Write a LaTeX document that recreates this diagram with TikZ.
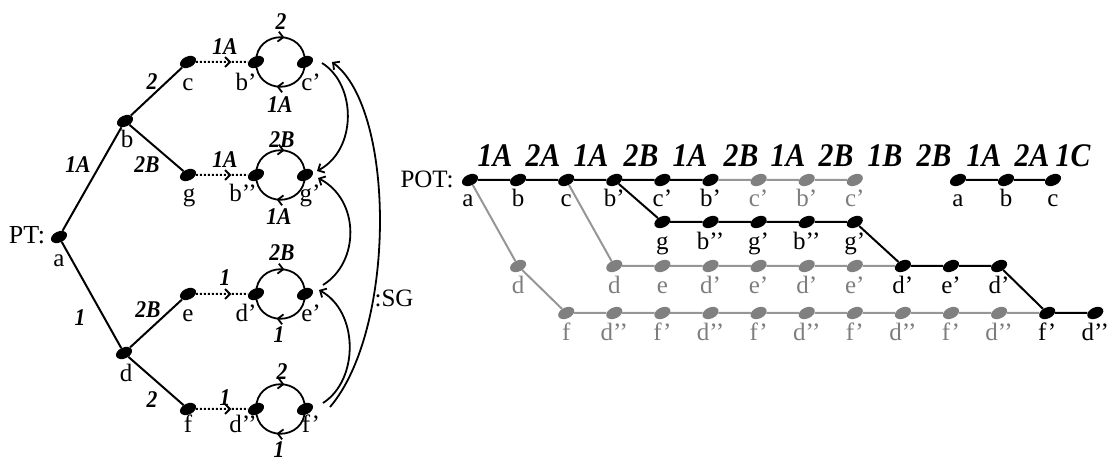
\documentclass[tikz,border=0pt]{standalone}
\usepackage{fontspec}
\setmainfont{Liberation Serif}
\newfontfamily\labfont[FakeStretch=0.9]{Liberation Serif}
\usetikzlibrary{shapes.geometric,arrows.meta,decorations.markings,calc}
\definecolor{gdotc}{RGB}{128,128,128}
\definecolor{glinec}{RGB}{150,150,150}
\definecolor{gtextc}{RGB}{125,125,125}
\begin{document}
\begin{tikzpicture}[x=1pt,y=-1pt,
  pdot/.style={ellipse, fill=black, draw=none, minimum width=17pt, minimum height=11pt, inner sep=0pt, rotate=25},
  gpdot/.style={pdot, fill=gdotc},
  lbl/.style={font=\fontsize{25}{27}\selectfont, inner sep=0pt, anchor=base},
  glbl/.style={lbl, text=gtextc},
  elab/.style={font=\labfont\fontsize{24}{26}\selectfont\bfseries\itshape, inner sep=0pt},
  tlab/.style={font=\labfont\fontsize{33}{35}\selectfont\bfseries\itshape, inner sep=0pt, anchor=base},
  blk/.style={line width=2pt},
  gry/.style={line width=2pt, draw=glinec},
  carrow/.style={line width=1.8pt, -{Straight Barb[length=5pt,width=10pt]}},
  dotarrow/.style={line width=2pt, dash pattern=on 2pt off 2pt, postaction={decorate},
    decoration={markings, mark=at position 0.68 with {\arrow[solid]{Straight Barb[length=5pt,width=10pt]}}}},
  loopline/.style={line width=1.8pt, postaction={decorate},
    decoration={markings, mark=at position 0.55 with {\arrow{Straight Barb[length=5pt,width=10pt]}}}}
]
\useasboundingbox (0,0) rectangle (1112,462);

% ---------------- left: PT ----------------
\node[pdot] (a) at (59,237) {};
\node[pdot] (b) at (125,121) {};
\node[pdot] (c) at (188,62) {};
\node[pdot] (g) at (188,175) {};
\node[pdot] (d) at (124,353) {};
\node[pdot] (e) at (188,294) {};
\node[pdot] (f) at (188,409) {};
\node[pdot] (bp) at (256,62) {};
\node[pdot] (cp) at (305,62) {};
\node[pdot] (bpp) at (256,175) {};
\node[pdot] (gp) at (305,175) {};
\node[pdot] (dp) at (256,294) {};
\node[pdot] (ep) at (305,294) {};
\node[pdot] (dpp) at (256,409) {};
\node[pdot] (fp) at (305,409) {};

\draw[blk] (a) -- (b);
\draw[blk] (b) -- (c);
\draw[blk] (b) -- (g);
\draw[blk] (a) -- (d);
\draw[blk] (d) -- (e);
\draw[blk] (d) -- (f);

\draw[dotarrow] (c) -- (bp);
\draw[dotarrow] (g) -- (bpp);
\draw[dotarrow] (e) -- (dp);
\draw[dotarrow] (f) -- (dpp);

\draw[loopline] (bp.center) .. controls +(0,-33) and +(0,-33) .. (cp.center);
\draw[loopline] (cp.center) .. controls +(0,33) and +(0,33) .. (bp.center);
\draw[loopline] (bpp.center) .. controls +(0,-33) and +(0,-33) .. (gp.center);
\draw[loopline] (gp.center) .. controls +(0,33) and +(0,33) .. (bpp.center);
\draw[loopline] (dp.center) .. controls +(0,-33) and +(0,-33) .. (ep.center);
\draw[loopline] (ep.center) .. controls +(0,33) and +(0,33) .. (dp.center);
\draw[loopline] (dpp.center) .. controls +(0,-33) and +(0,-33) .. (fp.center);
\draw[loopline] (fp.center) .. controls +(0,33) and +(0,33) .. (dpp.center);

\draw[carrow] ($(cp)+(17,1)$) .. controls ($(cp)+(52,23)$) and ($(gp)+(52,-25)$) .. ($(gp)+(12,-4)$);
\draw[carrow] ($(ep)+(18,-9)$) .. controls ($(ep)+(55,-32)$) and ($(gp)+(55,25)$) .. ($(gp)+(13,3)$);
\draw[carrow] ($(fp)+(18,-6)$) .. controls ($(fp)+(54,-29)$) and ($(ep)+(54,18)$) .. ($(ep)+(14,-4)$);
\draw[carrow] ($(fp)+(25,-2)$) .. controls ($(fp)+(91,-79)$) and ($(cp)+(91,48)$) .. ($(cp)+(27,0)$);

\node[font=\fontsize{26}{28}\selectfont, inner sep=0pt] (ptlab) at (27,235) {PT:};
\node[lbl] (la) at (59,267) {a};
\node[lbl] (lb) at (127,148) {b};
\node[lbl] (lc) at (188,91) {c};
\node[lbl] (lg) at (189,202) {g};
\node[lbl] (ld) at (126,382) {d};
\node[lbl] (le) at (188,322) {e};
\node[lbl] (lf) at (188,433) {f};
\node[lbl] (lbp) at (246,91) {b’};
\node[lbl] (lcp) at (311,91) {c’};
\node[lbl] (lbpp) at (243,202) {b’’};
\node[lbl] (lgp) at (310,202) {g’};
\node[lbl] (ldp) at (246,322) {d’};
\node[lbl] (lep) at (311,322) {e’};
\node[lbl] (ldpp) at (243,433) {d’’};
\node[lbl] (lfp) at (311,433) {f’};
\node[font=\fontsize{25}{27}\selectfont, inner sep=0pt] (sglab) at (394,298) {:SG};

\node[elab] (e1) at (78,165) {1A};
\node[elab] (e2) at (152,82) {2};
\node[elab] (e3) at (147,165) {2B};
\node[elab] (e4) at (80,318) {1};
\node[elab] (e5) at (148,310) {2B};
\node[elab] (e6) at (152,400) {2};
\node[elab] (e7) at (225,47) {1A};
\node[elab] (e8) at (225,160) {1A};
\node[elab] (e9) at (225,278) {1};
\node[elab] (e10) at (225,398) {1};
\node[elab] (e11) at (281,22) {2};
\node[elab] (e12) at (280,105) {1A};
\node[elab] (e13) at (282,140) {2B};
\node[elab] (e14) at (279,217) {1A};
\node[elab] (e15) at (282,253) {2B};
\node[elab] (e16) at (279,335) {1};
\node[elab] (e17) at (282,372) {2};
\node[elab] (e18) at (279,450) {1};

% ---------------- right: POT ----------------
\node[font=\fontsize{25}{27}\selectfont, inner sep=0pt] (potlab) at (427,179) {POT:};

% row 1
\node[pdot] (r1a) at (470,180) {};
\node[pdot] (r1b) at (518.1,180) {};
\node[pdot] (r1c) at (566.2,180) {};
\node[pdot] (r1d) at (614.3,180) {};
\node[pdot] (r1e) at (662.4,180) {};
\node[pdot] (r1f) at (710.5,180) {};
\node[gpdot] (r1g) at (758.6,180) {};
\node[gpdot] (r1h) at (806.7,180) {};
\node[gpdot] (r1i) at (854.8,180) {};
% row 2
\node[pdot] (r2e) at (662.4,222) {};
\node[pdot] (r2f) at (710.5,222) {};
\node[pdot] (r2g) at (758.6,222) {};
\node[pdot] (r2h) at (806.7,222) {};
\node[pdot] (r2i) at (854.8,222) {};
% row 3
\node[gpdot] (r3b) at (518.1,266) {};
\node[gpdot] (r3d) at (614.3,266) {};
\node[gpdot] (r3e) at (662.4,266) {};
\node[gpdot] (r3f) at (710.5,266) {};
\node[gpdot] (r3g) at (758.6,266) {};
\node[gpdot] (r3h) at (806.7,266) {};
\node[gpdot] (r3i) at (854.8,266) {};
\node[pdot] (r3j) at (902.9,266) {};
\node[pdot] (r3k) at (951,266) {};
\node[pdot] (r3l) at (999.1,266) {};
% row 4
\node[gpdot] (r4c) at (566.2,313) {};
\node[gpdot] (r4d) at (614.3,313) {};
\node[gpdot] (r4e) at (662.4,313) {};
\node[gpdot] (r4f) at (710.5,313) {};
\node[gpdot] (r4g) at (758.6,313) {};
\node[gpdot] (r4h) at (806.7,313) {};
\node[gpdot] (r4i) at (854.8,313) {};
\node[gpdot] (r4j) at (902.9,313) {};
\node[gpdot] (r4k) at (951,313) {};
\node[gpdot] (r4l) at (999.1,313) {};
\node[pdot] (r4m) at (1047.2,313) {};
\node[pdot] (r4n) at (1095.3,313) {};
% separate a b c
\node[pdot] (sa) at (958,180) {};
\node[pdot] (sb) at (1006,180) {};
\node[pdot] (sc) at (1053,180) {};

% lines
\draw[blk] (r1a) -- (r1b) -- (r1c) -- (r1d) -- (r1e) -- (r1f);
\draw[gry] (r1f) -- (r1g) -- (r1h) -- (r1i);
\draw[gry] (r1a) -- (r3b);
\draw[gry] (r3b) -- (r4c);
\draw[gry] (r1c) -- (r3d);
\draw[blk] (r1d) -- (r2e);
\draw[blk] (r2e) -- (r2f) -- (r2g) -- (r2h) -- (r2i);
\draw[blk] (r2i) -- (r3j);
\draw[gry] (r3d) -- (r3e) -- (r3f) -- (r3g) -- (r3h) -- (r3i) -- (r3j);
\draw[blk] (r3j) -- (r3k) -- (r3l);
\draw[blk] (r3l) -- (r4m);
\draw[gry] (r4c) -- (r4d) -- (r4e) -- (r4f) -- (r4g) -- (r4h) -- (r4i) -- (r4j) -- (r4k) -- (r4l) -- (r4m);
\draw[blk] (r4m) -- (r4n);
\draw[blk] (sa) -- (sb) -- (sc);

% labels row 1
\node[lbl] (q1a) at (468,207) {a};
\node[lbl] (q1b) at (518.1,207) {b};
\node[lbl] (q1c) at (566.2,207) {c};
\node[lbl] (q1d) at (614.3,207) {b’};
\node[lbl] (q1e) at (662.4,207) {c’};
\node[lbl] (q1f) at (710.5,207) {b’};
\node[glbl] (q1g) at (758.6,207) {c’};
\node[glbl] (q1h) at (806.7,207) {b’};
\node[glbl] (q1i) at (854.8,207) {c’};
% labels row 2
\node[lbl] (q2e) at (662.4,250) {g};
\node[lbl] (q2f) at (710.5,250) {b’’};
\node[lbl] (q2g) at (758.6,250) {g’};
\node[lbl] (q2h) at (806.7,250) {b’’};
\node[lbl] (q2i) at (854.8,250) {g’};
% labels row 3
\node[glbl] (q3b) at (518.1,294) {d};
\node[glbl] (q3d) at (614.3,294) {d};
\node[glbl] (q3e) at (662.4,294) {e};
\node[glbl] (q3f) at (710.5,294) {d’};
\node[glbl] (q3g) at (758.6,294) {e’};
\node[glbl] (q3h) at (806.7,294) {d’};
\node[glbl] (q3i) at (854.8,294) {e’};
\node[lbl] (q3j) at (902.9,294) {d’};
\node[lbl] (q3k) at (951,294) {e’};
\node[lbl] (q3l) at (999.1,294) {d’};
% labels row 4
\node[glbl] (q4c) at (566.2,341) {f};
\node[glbl] (q4d) at (614.3,341) {d’’};
\node[glbl] (q4e) at (662.4,341) {f’};
\node[glbl] (q4f) at (710.5,341) {d’’};
\node[glbl] (q4g) at (758.6,341) {f’};
\node[glbl] (q4h) at (806.7,341) {d’’};
\node[glbl] (q4i) at (854.8,341) {f’};
\node[glbl] (q4j) at (902.9,341) {d’’};
\node[glbl] (q4k) at (951,341) {f’};
\node[glbl] (q4l) at (999.1,341) {d’’};
\node[lbl] (q4m) at (1047.2,341) {f’};
\node[lbl] (q4n) at (1095.3,341) {d’’};
% separate labels
\node[lbl] (qsa) at (958,207) {a};
\node[lbl] (qsb) at (1006,207) {b};
\node[lbl] (qsc) at (1053,207) {c};

% top labels
\node[tlab] (t1) at (495,167) {1A};
\node[tlab] (t2) at (543,167) {2A};
\node[tlab] (t3) at (591,167) {1A};
\node[tlab] (t4) at (641,167) {2B};
\node[tlab] (t5) at (690,167) {1A};
\node[tlab] (t6) at (741,167) {2B};
\node[tlab] (t7) at (788,167) {1A};
\node[tlab] (t8) at (836,167) {2B};
\node[tlab] (t9) at (885,167) {1B};
\node[tlab] (t10) at (934,167) {2B};
\node[tlab] (t11) at (984,167) {1A};
\node[tlab] (t12) at (1032,167) {2A};
\node[tlab] (t13) at (1073,167) {1C};
\end{tikzpicture}
\end{document}
